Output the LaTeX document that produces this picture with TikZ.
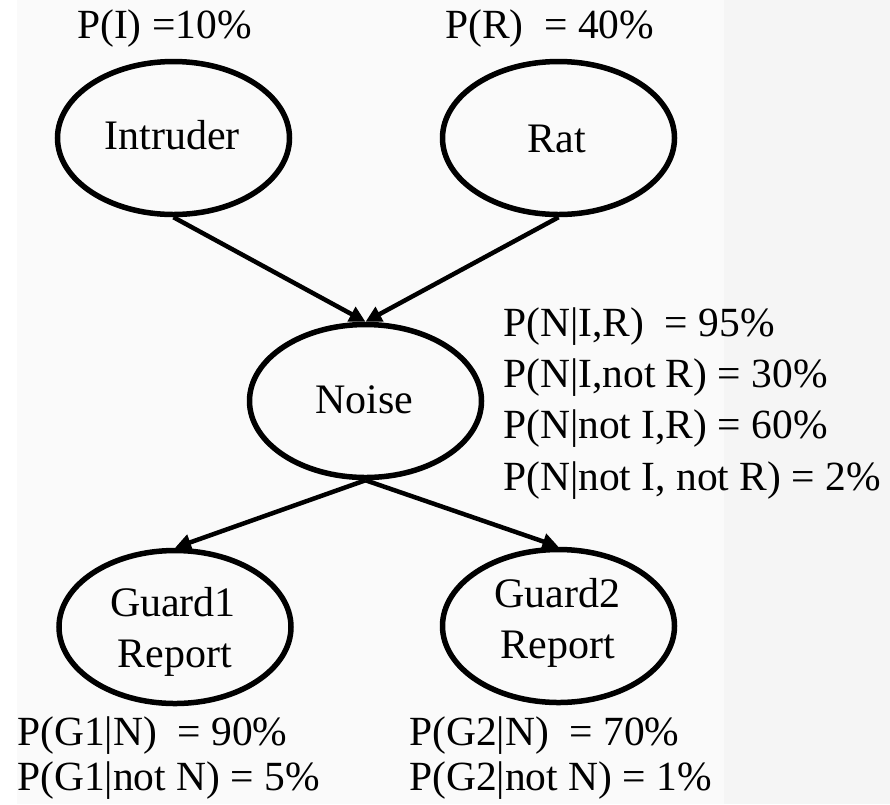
\documentclass[tikz,border=0pt]{standalone}
\usepackage{fontspec}
\setmainfont{Liberation Serif}
\usetikzlibrary{shapes.geometric,arrows.meta}
\definecolor{bgA}{HTML}{FAFAFA}
\definecolor{bgB}{HTML}{F5F5F5}
\begin{document}
\begin{tikzpicture}[x=1pt,y=-1pt,
  ell/.style={ellipse, draw=black, line width=5.5pt, minimum width=232pt, minimum height=153pt, inner sep=0pt},
  ntext/.style={anchor=base, inner sep=0pt, font=\fontsize{42}{50}\selectfont},
  prob/.style={anchor=base west, inner sep=0pt, font=\fontsize{41.5}{51}\selectfont},
  arr/.style={line width=4.5pt, -{Triangle[length=16pt,width=16pt]}}]
\fill[white] (0,0) rectangle (890,804);
\fill[bgA] (17,0) rectangle (724,804);
\fill[bgB] (724,0) rectangle (890,804);
\useasboundingbox (0,0) rectangle (890,804);

% nodes
\node[ell] (I) at (173.5,138) {};
\node[ell] (R) at (558.5,138) {};
\node[ell] (N) at (365.5,401) {};
\node[ell] (G1) at (175,627) {};
\node[ell] (G2) at (558.5,626) {};

\node[ntext] (It) at (172,149) {Intruder};
\node[ntext] (Rt) at (557,152) {Rat};
\node[ntext] (Nt) at (364,413) {Noise};
\node[ntext] (G1a) at (173,616) {Guard1};
\node[ntext] (G1b) at (175,667) {Report};
\node[ntext] (G2a) at (557.5,607) {Guard2};
\node[ntext] (G2b) at (558,658) {Report};

% connectors
\draw[arr] (I.south) -- (N.north);
\draw[arr] (R.south) -- (N.north);
\draw[arr] (N.south) -- (G1.north);
\draw[arr] (N.south) -- (G2.north);

% probability labels
\node[prob] (pI) at (77,38) {P(I) =10\%};
\node[prob] (pR) at (445,38) {P(R)\ \ = 40\%};
\node[prob] (pN1) at (503,336) {P(N|I,R)\ \ = 95\%};
\node[prob] (pN2) at (503,387) {P(N|I,not R) = 30\%};
\node[prob] (pN3) at (503,438) {P(N|not I,R) = 60\%};
\node[prob] (pN4) at (503,490) {P(N|not I, not R) = 2\%};
\node[prob] (pG1a) at (17,745) {P(G1|N)\ \ = 90\%};
\node[prob] (pG1b) at (17,790) {P(G1|not N) = 5\%};
\node[prob] (pG2a) at (409,745) {P(G2|N)\ \ = 70\%};
\node[prob] (pG2b) at (409,790) {P(G2|not N) = 1\%};
\end{tikzpicture}
\end{document}
